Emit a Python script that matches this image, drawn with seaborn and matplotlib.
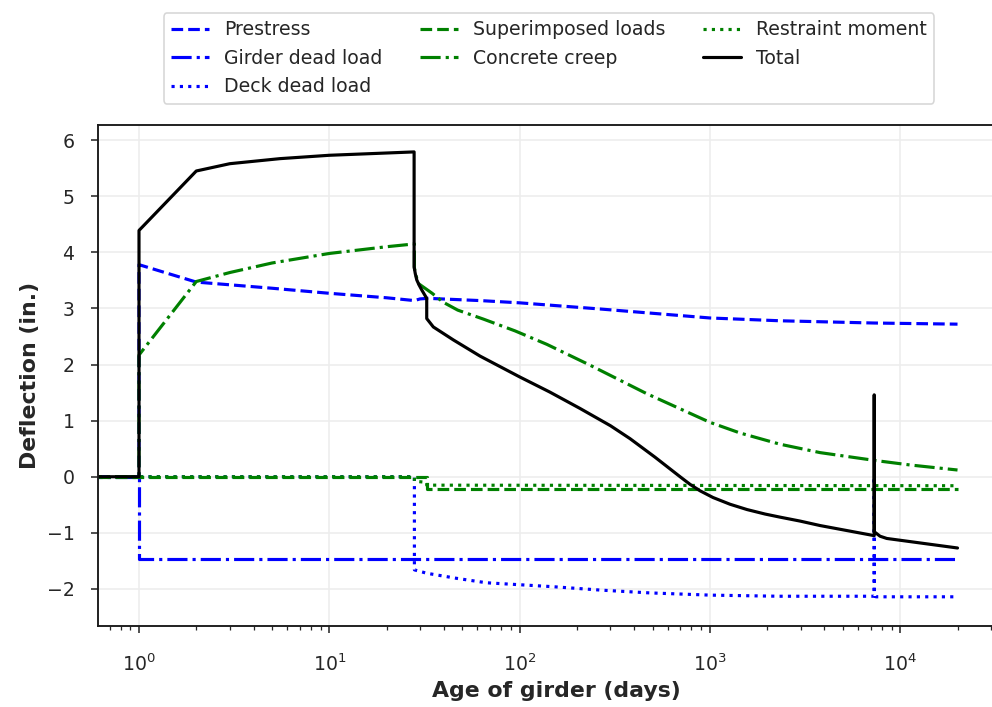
import matplotlib
matplotlib.use("Agg")
import matplotlib.pyplot as plt
import seaborn as sns

# time (days) and deflection (in.)
prestress_t = [0.5, 1, 1, 2, 5, 10, 20, 28, 30, 33, 62, 100, 265, 1000, 2335, 7300, 20000]
prestress_v = [0, 0, 3.78, 3.47, 3.36, 3.27, 3.19, 3.14, 3.17, 3.18, 3.14, 3.10, 2.99, 2.83, 2.78, 2.74, 2.72]

girder_t = [0.5, 1, 1, 20000]
girder_v = [0, 0, -1.46, -1.46]

deck_t = [0.5, 28, 28, 32.5, 46.5, 67, 150, 265, 480, 1000, 2300, 7300, 7300, 7302, 7450, 20000]
deck_v = [0, 0, -1.66, -1.72, -1.81, -1.89, -1.96, -2.02, -2.07, -2.11, -2.13, -2.13, 0, -2.05, -2.14, -2.14]

superimposed_t = [0.5, 32.5, 32.5, 20000]
superimposed_v = [0, 0, -0.22, -0.22]

creep_t = [0.5, 1, 1, 2, 3, 5, 10, 20, 28, 28, 29.2, 34.7, 39.7, 47.3, 64.5, 94.6, 139, 234, 466,
           1000, 1439, 2335, 3793, 7375, 11250, 20000]
creep_v = [0, 0, 2.17, 3.48, 3.64, 3.81, 3.98, 4.10, 4.15, 3.72, 3.45, 3.27, 3.11, 2.97, 2.81, 2.60, 2.36, 1.99, 1.48,
           0.97, 0.78, 0.58, 0.43, 0.29, 0.21, 0.12]

restraint_t = [0.5, 28, 28, 32.5, 32.5, 20000]
restraint_v = [0, 0, -0.08, -0.10, -0.15, -0.16]

total_t = [0.5, 1, 1, 2, 3, 5.5, 10, 27.9, 27.9, 28.3, 28.8, 29.6, 30.6, 32.5, 32.5, 35.2, 44.8, 62,
           100, 144, 207, 300, 380, 514, 697, 786, 887, 1038, 1275, 1567, 1950, 2335, 2974, 3793, 7300,
           7300, 7301, 7835, 8500, 20000]
total_v = [0, 0, 4.39, 5.45, 5.58, 5.67, 5.73, 5.79, 3.74, 3.62, 3.51, 3.42, 3.33, 3.18, 2.82, 2.67, 2.44, 2.15,
           1.78, 1.51, 1.22, 0.91, 0.68, 0.35, 0.0, -0.135, -0.25, -0.37, -0.49, -0.585, -0.665, -0.72, -0.79, -0.87,
           -1.05, 1.46, -0.98, -1.06, -1.10, -1.27]

series = [
    ("Prestress", prestress_t, prestress_v, "blue", "--"),
    ("Girder dead load", girder_t, girder_v, "blue", "-."),
    ("Deck dead load", deck_t, deck_v, "blue", ":"),
    ("Superimposed loads", superimposed_t, superimposed_v, "green", "--"),
    ("Concrete creep", creep_t, creep_v, "green", "-."),
    ("Restraint moment", restraint_t, restraint_v, "green", ":"),
    ("Total", total_t, total_v, "black", "-"),
]


def plot_deflection():
    sns.set_theme(style="ticks")
    plt.rcParams["font.family"] = ["DejaVu Sans"]
    dpi = 113.333
    fig = plt.figure(figsize=(8.7531, 6.2384), dpi=dpi)
    # right edge of the axes runs past the figure, as in the reference crop
    ax = fig.add_axes([0.0988, 0.1146, 0.925, 0.7086])

    for name, t, v, col, ls in series:
        sns.lineplot(x=t, y=v, ax=ax, color=col, linestyle=ls, linewidth=2,
                     estimator=None, sort=False, label=name, legend=False)

    ax.set_xscale("log")
    ax.set_xlim(0.609, 40400)
    ax.set_ylim(-2.66, 6.27)
    ax.grid(True, which="major", color="0.93", linewidth=1)
    ax.set_axisbelow(True)
    ax.tick_params(labelsize=12, length=4.5, width=1, colors="0.15")
    ax.tick_params(axis="x", pad=13)
    ax.tick_params(axis="y", pad=10.5)
    ax.tick_params(which="minor", length=2.5, width=0.8)
    for sp in ax.spines.values():
        sp.set_color("0.1")
        sp.set_linewidth(1.2)

    ax.set_xlabel("Age of girder (days)", fontsize=14, fontweight="bold")
    ax.set_ylabel("Deflection (in.)", fontsize=14, fontweight="bold")

    handles, labels = ax.get_legend_handles_labels()
    fig.legend(handles, labels, loc="lower center", bbox_to_anchor=(0.5534, 0.853),
               ncol=3, fontsize=12, frameon=True, borderaxespad=0)

    fig.savefig("out.png", dpi=dpi)


def main():
    return plot_deflection()


if __name__ == "__main__":
    main()
